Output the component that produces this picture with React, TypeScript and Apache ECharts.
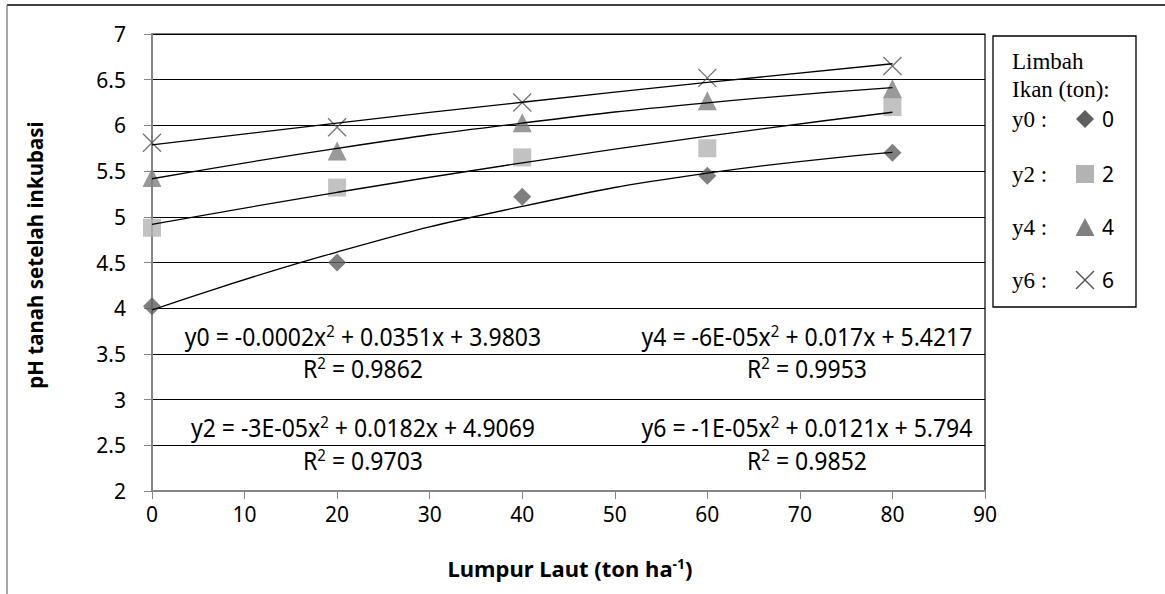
import React, { useEffect, useRef } from "react";
import * as echarts from "echarts";

const xValues = [0, 20, 40, 60, 80];
const y0Values = [4.02, 4.5, 5.22, 5.45, 5.7];
const y2Values = [4.88, 5.32, 5.65, 5.75, 6.2];
const y4Values = [5.43, 5.72, 6.03, 6.27, 6.4];
const y6Values = [5.81, 5.98, 6.25, 6.52, 6.65];
const seriesNames = ["0", "2", "4", "6"];
const legendLabels = ["y0 :", "y2 :", "y4 :", "y6 :"];
const equations = [
  "y0 = -0.0002x{sup|2} + 0.0351x + 3.9803",
  "y2 = -3E-05x{sup|2} + 0.0182x + 4.9069",
  "y4 = -6E-05x{sup|2} + 0.017x + 5.4217",
  "y6 = -1E-05x{sup|2} + 0.0121x + 5.794",
];
const rSquared = ["0.9862", "0.9703", "0.9953", "0.9852"];

const SANS = "'Noto Sans', 'Open Sans', sans-serif";
const SERIF = "'Liberation Serif', 'DejaVu Serif', serif";

// least-squares quadratic fit of the data (Excel polynomial trendline)
function quadFit(xs: number[], ys: number[]) {
  const S = (f: (x: number, y: number) => number) =>
    xs.reduce((a, x, i) => a + f(x, ys[i]), 0);
  const n = xs.length;
  const sx = S((x) => x), sx2 = S((x) => x * x), sx3 = S((x) => x ** 3), sx4 = S((x) => x ** 4);
  const sy = S((_, y) => y), sxy = S((x, y) => x * y), sx2y = S((x, y) => x * x * y);
  const M = [
    [n, sx, sx2, sy],
    [sx, sx2, sx3, sxy],
    [sx2, sx3, sx4, sx2y],
  ];
  for (let i = 0; i < 3; i++) {
    for (let k = i + 1; k < 3; k++) {
      const f = M[k][i] / M[i][i];
      for (let j = i; j < 4; j++) M[k][j] -= f * M[i][j];
    }
  }
  const c = [0, 0, 0];
  for (let i = 2; i >= 0; i--) {
    let s = M[i][3];
    for (let j = i + 1; j < 3; j++) s -= M[i][j] * c[j];
    c[i] = s / M[i][i];
  }
  return (x: number) => c[0] + c[1] * x + c[2] * x * x;
}

export default function App() {
  const ref = useRef<HTMLDivElement>(null);
  useEffect(() => {
    document.body.style.margin = "0";
    const chart = echarts.init(ref.current!, null, { renderer: "svg" });
    const allY = [y0Values, y2Values, y4Values, y6Values];
    const symbols = [
      { symbol: "diamond", color: "#5f5f5f", size: 18 },
      { symbol: "rect", color: "#b3b3b3", size: 18 },
      { symbol: "triangle", color: "#808080", size: 19 },
      { symbol: "path://M0,0L10,10M10,0L0,10", color: "#555555", size: 18 },
    ];
    const scatterSeries = allY.map((ys, i) => ({
      name: seriesNames[i],
      type: "scatter",
      symbol: symbols[i].symbol,
      symbolSize: symbols[i].size,
      itemStyle:
        i === 3
          ? { color: "none", borderColor: symbols[i].color, borderWidth: 1.4 }
          : { color: symbols[i].color },
      data: xValues.map((x, j) => [x, ys[j]]),
      z: 2,
    }));
    const trendSeries = allY.map((ys) => {
      const f = quadFit(xValues, ys);
      return {
        type: "line",
        smooth: true,
        showSymbol: false,
        symbol: "none",
        lineStyle: { color: "#000", width: 1.3 },
        data: xValues.map((x) => [x, f(x)]),
        z: 3,
        silent: true,
      };
    });

    const eqPos = [
      [363, 336, 368],
      [363, 427, 460],
      [807, 336, 368],
      [807, 427, 460],
    ];
    const supRich = {
      sup: { fontSize: 15, fontFamily: SANS, padding: [0, 0, 10, 0], fill: "#000" },
    };
    const eqGraphics: any[] = [];
    equations.forEach((eq, i) => {
      const [cx, ey, ry] = eqPos[i];
      eqGraphics.push({
        type: "text",
        x: cx,
        y: ey,
        scaleY: 1.1,
        z: 10,
        style: {
          text: eq,
          fontSize: 23,
          fontFamily: SANS,
          fill: "#000",
          align: "center",
          verticalAlign: "middle",
          rich: supRich,
        },
      });
      eqGraphics.push({
        type: "text",
        x: cx,
        y: ry,
        scaleY: 1.1,
        z: 10,
        style: {
          text: "R{sup|2} = " + rSquared[i],
          fontSize: 23,
          fontFamily: SANS,
          fill: "#000",
          align: "center",
          verticalAlign: "middle",
          rich: supRich,
        },
      });
    });

    const legendY = [119, 174, 227, 280];
    const legendGraphics: any[] = [
      {
        type: "rect",
        shape: { x: 993, y: 36, width: 143, height: 271 },
        style: { fill: "#fff", stroke: "#000", lineWidth: 1.3 },
        z: 10,
      },
      {
        type: "text",
        x: 1012,
        y: 61,
        z: 11,
        style: { text: "Limbah", fontSize: 23, fontFamily: SERIF, fill: "#000", verticalAlign: "middle" },
      },
      {
        type: "text",
        x: 1012,
        y: 89,
        z: 11,
        style: { text: "Ikan (ton):", fontSize: 23, fontFamily: SERIF, fill: "#000", verticalAlign: "middle" },
      },
    ];
    legendY.forEach((ly, i) => {
      legendGraphics.push({
        type: "text",
        x: 1012,
        y: ly,
        z: 11,
        style: { text: legendLabels[i], fontSize: 23, fontFamily: SERIF, fill: "#000", verticalAlign: "middle" },
      });
      legendGraphics.push({
        type: "text",
        x: 1102,
        y: ly,
        z: 11,
        style: { text: seriesNames[i], fontSize: 21, fontFamily: SANS, fill: "#000", verticalAlign: "middle" },
      });
    });
    const cx = 1085;
    legendGraphics.push(
      {
        type: "polygon",
        z: 11,
        shape: { points: [[cx, 110], [cx + 9, 119], [cx, 128], [cx - 9, 119]] },
        style: { fill: "#5f5f5f" },
      },
      {
        type: "rect",
        z: 11,
        shape: { x: cx - 9, y: 174 - 9, width: 18, height: 18 },
        style: { fill: "#b3b3b3" },
      },
      {
        type: "polygon",
        z: 11,
        shape: { points: [[cx, 218], [cx + 9.5, 236], [cx - 9.5, 236]] },
        style: { fill: "#808080" },
      },
      {
        type: "line",
        z: 11,
        shape: { x1: cx - 9, y1: 271, x2: cx + 9, y2: 289 },
        style: { stroke: "#555", lineWidth: 1.4 },
      },
      {
        type: "line",
        z: 11,
        shape: { x1: cx + 9, y1: 271, x2: cx - 9, y2: 289 },
        style: { stroke: "#555", lineWidth: 1.4 },
      }
    );

    const option: any = {
      animation: false,
      backgroundColor: "#fff",
      grid: {
        left: 152,
        right: 180,
        top: 34,
        bottom: 103,
        show: true,
        borderColor: "#000",
        borderWidth: 1.2,
      },
      xAxis: {
        type: "value",
        min: 0,
        max: 90,
        interval: 10,
        axisLine: { show: true, lineStyle: { color: "#868686", width: 2 } },
        axisTick: { show: true, length: 8, lineStyle: { color: "#868686", width: 1 } },
        axisLabel: { fontSize: 21, fontFamily: SANS, color: "#000", margin: 12 },
        splitLine: { show: false },
      },
      yAxis: {
        type: "value",
        min: 2,
        max: 7,
        interval: 0.5,
        axisLine: { show: true, lineStyle: { color: "#868686", width: 2 } },
        axisTick: { show: true, length: 8, lineStyle: { color: "#868686", width: 1 } },
        axisLabel: { fontSize: 21, fontFamily: SANS, color: "#000", margin: 26 },
        splitLine: { show: true, lineStyle: { color: "#000", width: 1.2 } },
      },
      series: [...trendSeries, ...scatterSeries],
      graphic: [
        {
          type: "line",
          shape: { x1: 7, y1: 5, x2: 1165, y2: 5 },
          style: { stroke: "#000", lineWidth: 1.3 },
        },
        {
          type: "line",
          shape: { x1: 7, y1: 5, x2: 7, y2: 594 },
          style: { stroke: "#777", lineWidth: 1.3 },
        },
        {
          type: "text",
          x: 35,
          y: 255,
          rotation: Math.PI / 2,
          style: {
            text: "pH tanah setelah inkubasi",
            fontSize: 20.5,
            fontWeight: "bold",
            fontFamily: SANS,
            fill: "#000",
            align: "center",
            verticalAlign: "middle",
          },
        },
        {
          type: "text",
          x: 570,
          y: 568,
          style: {
            text: "Lumpur Laut (ton ha{sup|-1})",
            fontSize: 22,
            fontWeight: "bold",
            fontFamily: SANS,
            fill: "#000",
            align: "center",
            verticalAlign: "middle",
            rich: {
              sup: { fontSize: 14, fontWeight: "bold", fontFamily: SANS, padding: [0, 0, 10, 0], fill: "#000" },
            },
          },
        },
        ...eqGraphics,
        ...legendGraphics,
      ],
    };
    chart.setOption(option);
    return () => chart.dispose();
  }, []);
  return <div ref={ref} style={{ width: 1165, height: 594 }} />;
}
